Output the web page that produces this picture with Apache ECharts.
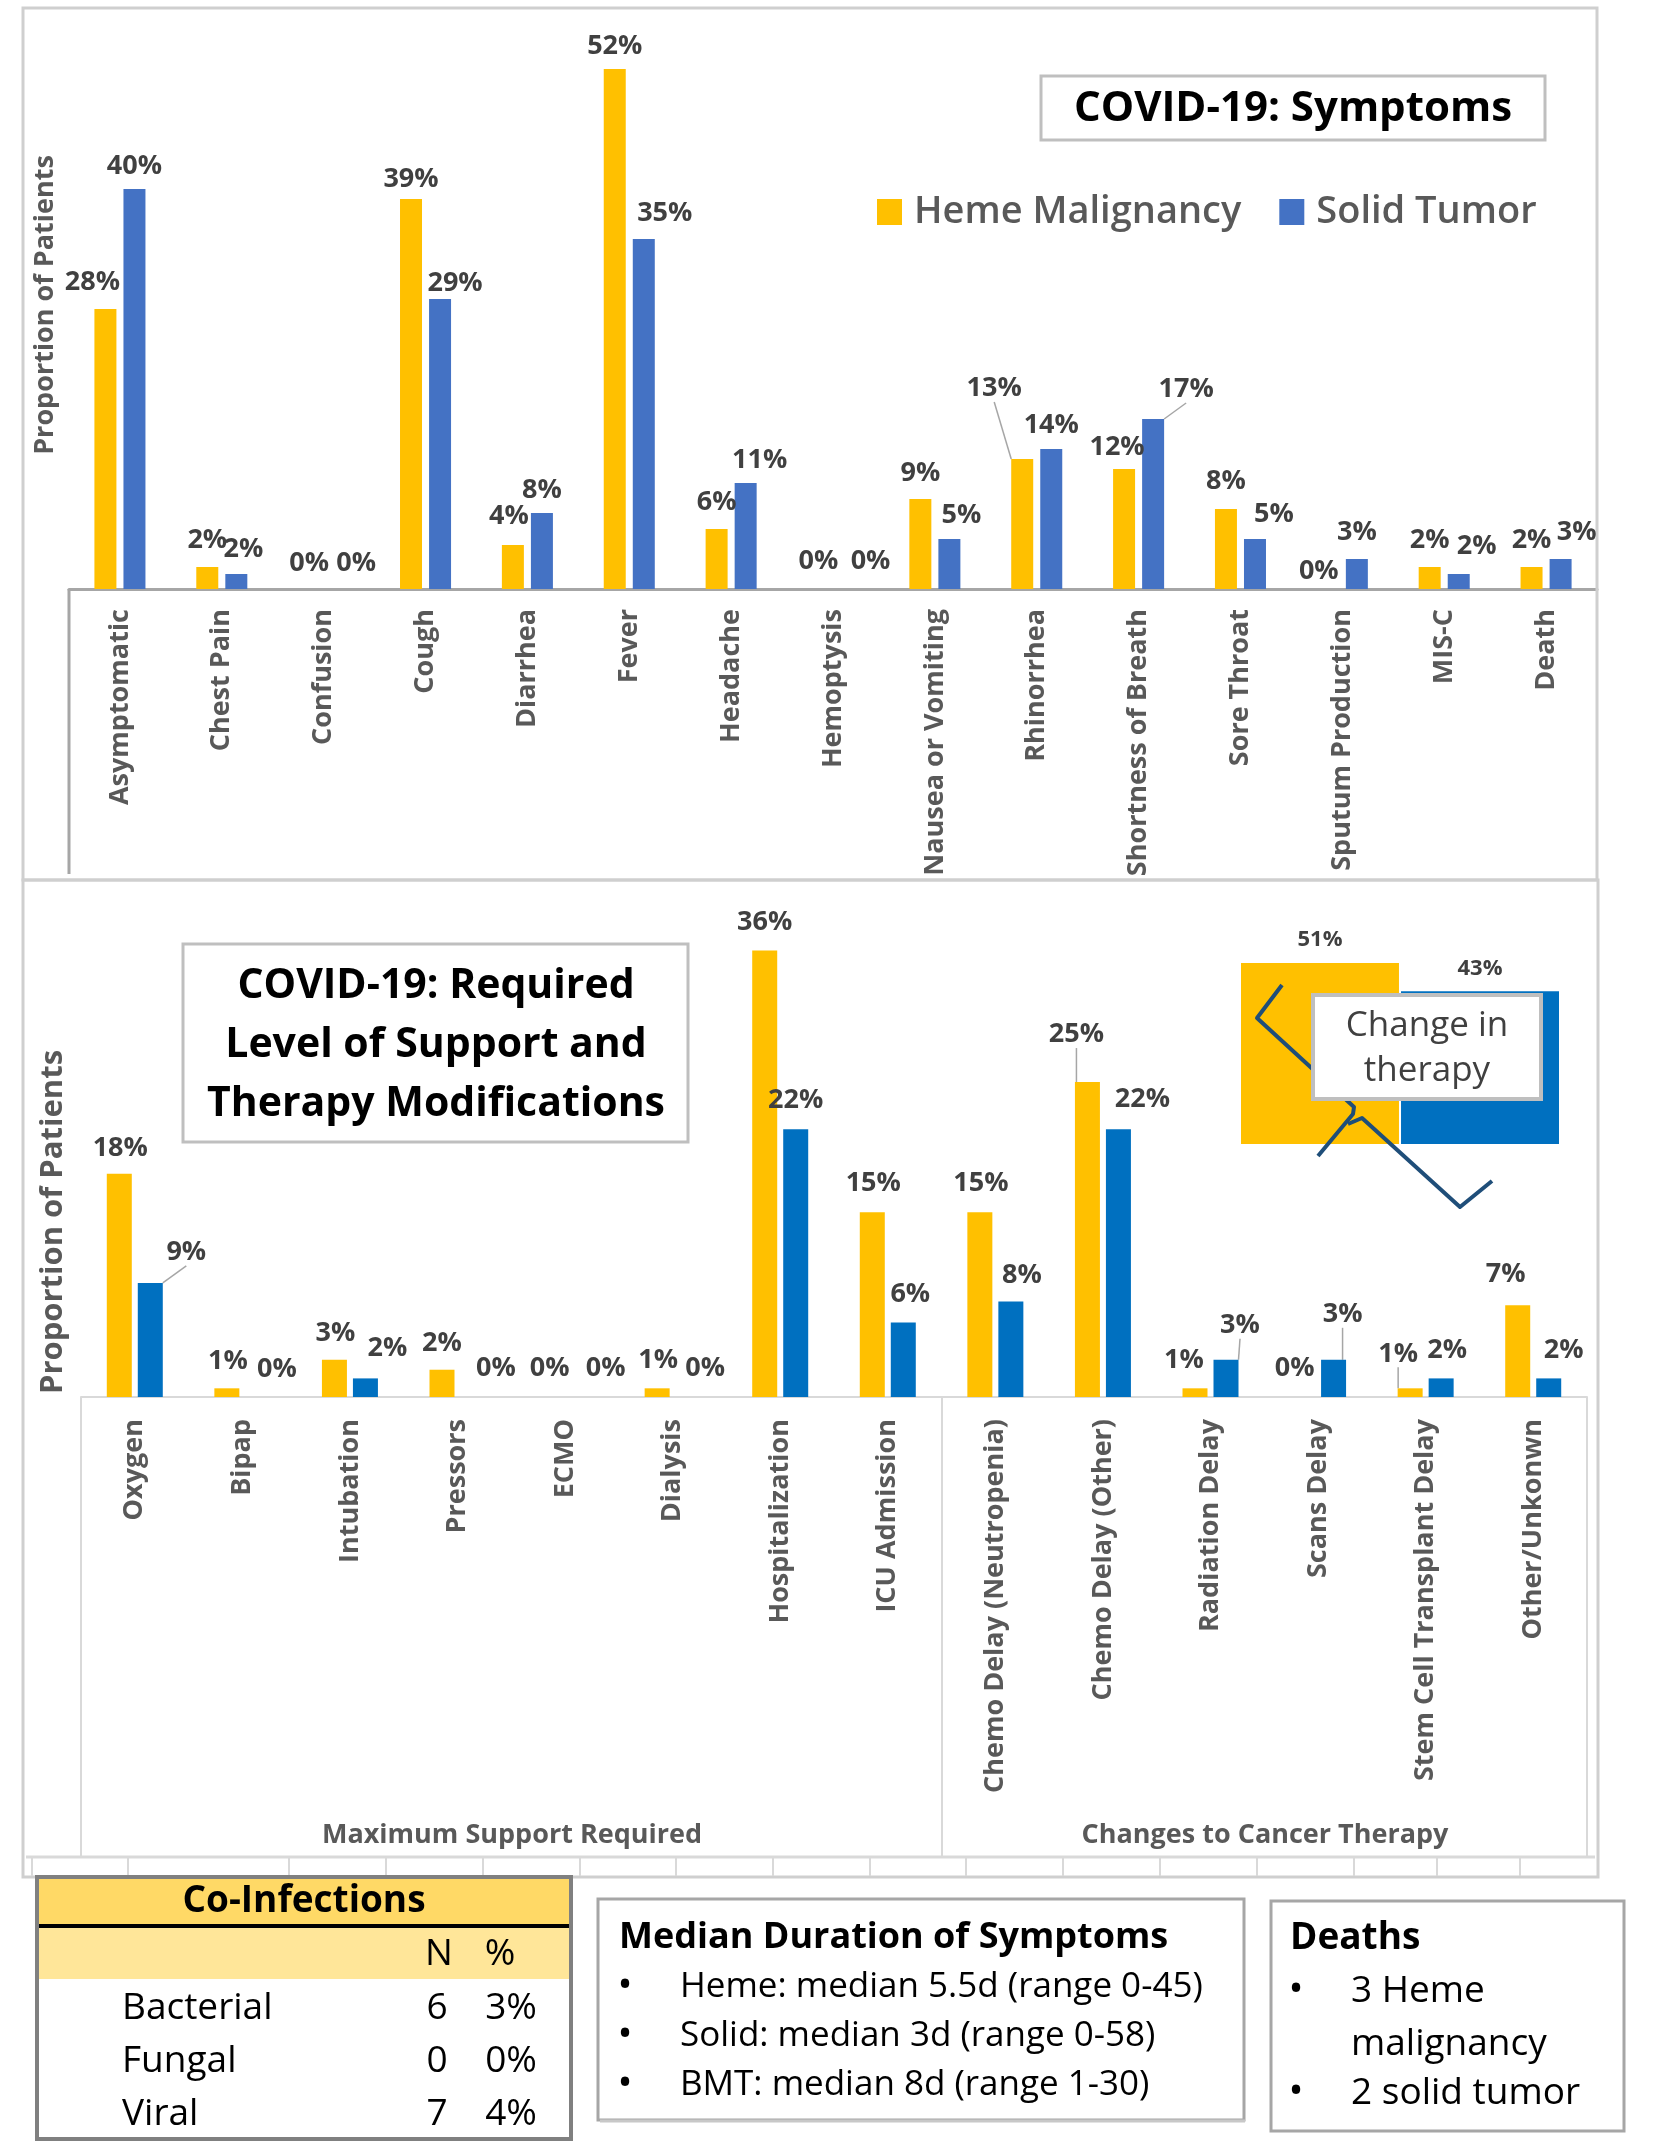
<!DOCTYPE html>
<html>
<head>
<meta charset="utf-8">
<script src="https://cdn.jsdelivr.net/npm/echarts@6/dist/echarts.min.js"></script>
<style>
html,body{margin:0;padding:0;background:#fff;}
#c{width:1667px;height:2156px;}
</style>
</head>
<body>
<div id="c"></div>
<script>
// ---------------- DATA ----------------
const symptomCats = ['Asymptomatic','Chest Pain','Confusion','Cough','Diarrhea','Fever','Headache','Hemoptysis','Nausea or Vomiting','Rhinorrhea','Shortness of Breath','Sore Throat','Sputum Production','MIS-C','Death'];
const symptomHeme  = [28, 2.2, 0, 39, 4.4, 52, 6, 0, 9, 13, 12, 8, 0, 2.2, 2.2];
const symptomSolid = [40, 1.5, 0, 29, 7.6, 35, 10.6, 0, 5, 14, 17, 5, 3, 1.5, 3];

const supportCats  = ['Oxygen','Bipap','Intubation','Pressors','ECMO','Dialysis','Hospitalization','ICU Admission','Chemo Delay (Neutropenia)','Chemo Delay (Other)','Radiation Delay','Scans Delay','Stem Cell Transplant Delay','Other/Unkonwn'];
const supportHeme  = [18, 0.7, 3, 2.2, 0, 0.7, 36, 14.9, 14.9, 25.4, 0.7, 0, 0.7, 7.4];
const supportSolid = [9.2, 0, 1.5, 0, 0, 0, 21.6, 6.0, 7.7, 21.6, 3, 3, 1.5, 1.5];
const groupNames   = ['Maximum Support Required', 'Changes to Cancer Therapy'];

const changeCats  = ['Change in therapy'];
const changeHeme  = [51];
const changeSolid = [43];

const seriesNames = ['Heme Malignancy', 'Solid Tumor'];

const coInfHeader = ['N', '%'];
const coInfRows   = ['Bacterial', 'Fungal', 'Viral'];
const coInfN      = [6, 0, 7];
const coInfPct    = ['3%', '0%', '4%'];

const medianTitle = 'Median Duration of Symptoms';
const medianLines = ['Heme: median 5.5d (range 0-45)', 'Solid: median 3d (range 0-58)', 'BMT: median 8d (range 1-30)'];
const deathsTitle = 'Deaths';
const deathsLines = [['3 Heme', 'malignancy'], ['2 solid tumor']];

// ---------------- STYLE ----------------
const FONT = "'Open Sans','Noto Sans',sans-serif";
const YEL = '#FFC000', BLUE1 = '#4472C4', BLUE2 = '#0070C0';
// label nudges [dx, dy] (label placement style, like Excel's manual label moves)
const nTopHeme  = [[-13,-2],[0,-2],[0,-1],[0,5],[-4,-4],[0,2],[0,-2],[0,-3],[0,-1],[-28,-46],[-7,3],[0,-3],[-9,7],[0,-2],[0,-2]];
const nTopSolid = [[0,2],[7,0],[18,-1],[15,9],[0,2],[21,-1],[14,2],[23,-3],[12,1],[0,1],[33,-5],[19,0],[0,-2],[18,-3],[16,-2]];
const lTopHeme  = [9], lTopSolid = [10];
const nBotHeme  = [[1,3],[1,1],[1,2],[0,2],[0,0],[1,0],[0,0],[1,0],[1,0],[-11,-19],[-11,0],[-8,0],[-12,-6],[-12,-2]];
const nBotSolid = [[36,-2],[19,1],[22,-2],[23,0],[25,0],[17,0],[0,0],[7,0],[11,2],[24,-1],[14,-6],[9,-17],[6,0],[15,0]];
const lBotHeme  = [9, 12], lBotSolid = [0, 10, 11];

function items(vals, lines){
  return vals.map((v,i)=>({value:v, labelLine:{show: lines.indexOf(i)>=0, lineStyle:{color:'#a6a6a6', width:1.5}}}));
}
const pct = p => Math.round(p.value) + '%';
const dataLabel = (dist) => ({show:true, position:'top', distance:dist, formatter:pct,
  fontFamily:FONT, fontSize:27, fontWeight:'bold', color:'#404040'});
const nudge = arr => (p => ({dx: arr[p.dataIndex][0], dy: arr[p.dataIndex][1]}));

const chart = echarts.init(document.getElementById('c'), null, {renderer:'canvas'});

const catLabel = {rotate:90, margin:20, fontFamily:FONT, fontSize:27, fontWeight:'bold', color:'#595959', interval:0};

// ---------------- GRAPHIC ----------------
const G = [];
const line = (x1,y1,x2,y2,c,w,z) => G.push({type:'line', z:z||1, shape:{x1,y1,x2,y2}, style:{stroke:c, lineWidth:w}});
const rect = (x,y,w,h,fill,stroke,lw,z) => G.push({type:'rect', z:z||1, shape:{x,y,width:w,height:h}, style:{fill:fill, stroke:stroke, lineWidth:lw}});
const text = (t,x,y,size,weight,color,align,rot,z) => G.push({type:'text', z:z||5, x, y, rotation:rot||0,
  style:{text:t, fontFamily:FONT, fontSize:size, fontWeight:weight, fill:color, align:align||'center', verticalAlign:'middle', textAlign:align||'center', textVerticalAlign:'middle'}});

// panels
rect(23, 8, 1574, 872, 'none', '#cfcfcf', 3);
rect(23, 880, 1575, 997, 'none', '#cfcfcf', 3);
// top left axis frame
line(69, 589, 69, 874, '#a6a6a6', 3);
// bottom category frame
line(81, 1397, 81, 1857, '#d9d9d9', 2);
line(942, 1397, 942, 1857, '#d9d9d9', 2);
line(1587, 1397, 1587, 1857, '#d9d9d9', 2);
line(26, 1857, 1595, 1857, '#d9d9d9', 3);
[32,128,289,386,483,580,676,773,870,966,1063,1160,1257,1354,1437,1520].forEach(x => line(x, 1857, x, 1876, '#d9d9d9', 2));
// group labels
text(groupNames[0], 512, 1835, 27, 'bold', '#595959');
text(groupNames[1], 1265, 1835, 27, 'bold', '#595959');
// y titles
text('Proportion of Patients', 45, 305, 27, 'bold', '#595959', 'center', Math.PI/2);
text('Proportion of Patients', 53, 1222, 31, 'bold', '#595959', 'center', Math.PI/2);
// titles
rect(1041, 76, 504, 64, '#fff', '#bfbfbf', 3, 3);
text('COVID-19: Symptoms', 1293, 109, 42, 'bold', '#000');
rect(183, 944, 505, 198, '#fff', '#bfbfbf', 3, 3);
text('COVID-19: Required', 436, 986, 41, 'bold', '#000');
text('Level of Support and', 436, 1045, 41, 'bold', '#000');
text('Therapy Modifications', 436, 1104, 41, 'bold', '#000');
// squiggle annotation over inset
G.push({type:'polyline', z:50, shape:{points:[[1282,985],[1257,1018],[1354,1107],[1353,1114],[1318,1156]]}, style:{stroke:'#1F4E79', lineWidth:4, fill:'none', lineJoin:'round'}});
G.push({type:'polyline', z:50, shape:{points:[[1348,1124],[1362,1118],[1460,1207],[1492,1181]]}, style:{stroke:'#1F4E79', lineWidth:4, fill:'none', lineJoin:'round'}});
// callout
rect(1313, 995, 228, 104, '#fff', '#bfbfbf', 4, 60);
text('Change in', 1427, 1026, 35, 'normal', '#404040', 'center', 0, 61);
text('therapy', 1427, 1071, 35, 'normal', '#404040', 'center', 0, 61);

// Co-infections table
rect(39, 1878, 532, 47, '#FFD966', null, 0, 2);
rect(39, 1928, 532, 51, '#FFE699', null, 0, 2);
line(39, 1926, 571, 1926, '#000', 4, 3);
rect(37, 1877, 534, 262, 'none', '#808080', 4, 4);
text('Co-Infections', 304, 1901, 37, 'bold', '#000');
text(coInfHeader[0], 439, 1954, 37, 'normal', '#000');
text(coInfHeader[1], 500, 1954, 37, 'normal', '#000');
coInfRows.forEach((r,i) => {
  const y = [2008, 2061, 2114][i];
  text(r, 122, y, 37, 'normal', '#000', 'left');
  text(String(coInfN[i]), 437, y, 37, 'normal', '#000');
  text(coInfPct[i], 511, y, 37, 'normal', '#000');
});
// Median box
rect(598, 1899, 646, 221, '#fff', '#a6a6a6', 3, 2);
line(600, 2121, 1245, 2121, '#c8c8c8', 3, 3);
text(medianTitle, 619, 1938, 36, 'bold', '#000', 'left');
medianLines.forEach((t,i) => {
  const y = [1987, 2036, 2085][i];
  text('•', 625, y, 40, 'normal', '#000');
  text(t, 680, y, 35, 'normal', '#000', 'left');
});
// Deaths box
rect(1271, 1901, 353, 230, '#fff', '#a6a6a6', 3, 2);
text(deathsTitle, 1290, 1938, 37, 'bold', '#000', 'left');
text('•', 1296, 1991, 40, 'normal', '#000');
text(deathsLines[0][0], 1351, 1991, 37, 'normal', '#000', 'left');
text(deathsLines[0][1], 1351, 2044, 37, 'normal', '#000', 'left');
text('•', 1296, 2093, 40, 'normal', '#000');
text(deathsLines[1][0], 1351, 2093, 37, 'normal', '#000', 'left');

const option = {
  animation:false,
  backgroundColor:'#fff',
  legend:{
    data: seriesNames, left:872, top:188, itemWidth:25, itemHeight:26, itemGap:38,
    icon:'rect',
    textStyle:{fontFamily:FONT, fontSize:38, fontWeight:600, color:'#595959', padding:[0,0,0,7]}
  },
  grid:[
    {left:69, right:70, top:39, height:550},
    {left:81, right:80, top:901, height:496},
    {left:1241, width:318, top:931, height:213}
  ],
  xAxis:[
    {type:'category', gridIndex:0, data:symptomCats, axisTick:{show:false},
     axisLine:{lineStyle:{color:'#a6a6a6', width:3}}, axisLabel:catLabel},
    {type:'category', gridIndex:1, data:supportCats, axisTick:{show:false},
     axisLine:{lineStyle:{color:'#d9d9d9', width:2}}, axisLabel:Object.assign({}, catLabel, {margin:22})},
    {type:'category', gridIndex:2, data:changeCats, show:false}
  ],
  yAxis:[
    {type:'value', gridIndex:0, min:0, max:55, show:false},
    {type:'value', gridIndex:1, min:0, max:40, show:false},
    {type:'value', gridIndex:2, min:0, max:60, show:false}
  ],
  series:[
    {name:seriesNames[0], type:'bar', xAxisIndex:0, yAxisIndex:0, data:items(symptomHeme, lTopHeme),
     barWidth:22, barGap:'32%', itemStyle:{color:YEL}, label:dataLabel(11), labelLayout:nudge(nTopHeme)},
    {name:seriesNames[1], type:'bar', xAxisIndex:0, yAxisIndex:0, data:items(symptomSolid, lTopSolid),
     barWidth:22, barGap:'32%', itemStyle:{color:BLUE1}, label:dataLabel(11), labelLayout:nudge(nTopSolid)},
    {name:seriesNames[0], type:'bar', xAxisIndex:1, yAxisIndex:1, data:items(supportHeme, lBotHeme),
     barWidth:25, barGap:'24%', itemStyle:{color:YEL}, label:dataLabel(15), labelLayout:nudge(nBotHeme)},
    {name:seriesNames[1], type:'bar', xAxisIndex:1, yAxisIndex:1, data:items(supportSolid, lBotSolid),
     barWidth:25, barGap:'24%', itemStyle:{color:BLUE2}, label:dataLabel(15), labelLayout:nudge(nBotSolid)},
    {name:seriesNames[0], type:'bar', xAxisIndex:2, yAxisIndex:2, data:changeHeme,
     barWidth:158, barGap:'1.3%', itemStyle:{color:YEL},
     label:{show:true, position:'top', distance:12, formatter:pct, fontFamily:FONT, fontSize:22, fontWeight:'bold', color:'#404040'}},
    {name:seriesNames[1], type:'bar', xAxisIndex:2, yAxisIndex:2, data:changeSolid,
     barWidth:158, barGap:'1.3%', itemStyle:{color:BLUE2},
     label:{show:true, position:'top', distance:12, formatter:pct, fontFamily:FONT, fontSize:22, fontWeight:'bold', color:'#404040'}}
  ],
  graphic:{elements:G}
};
chart.setOption(option);
</script>
</body>
</html>
